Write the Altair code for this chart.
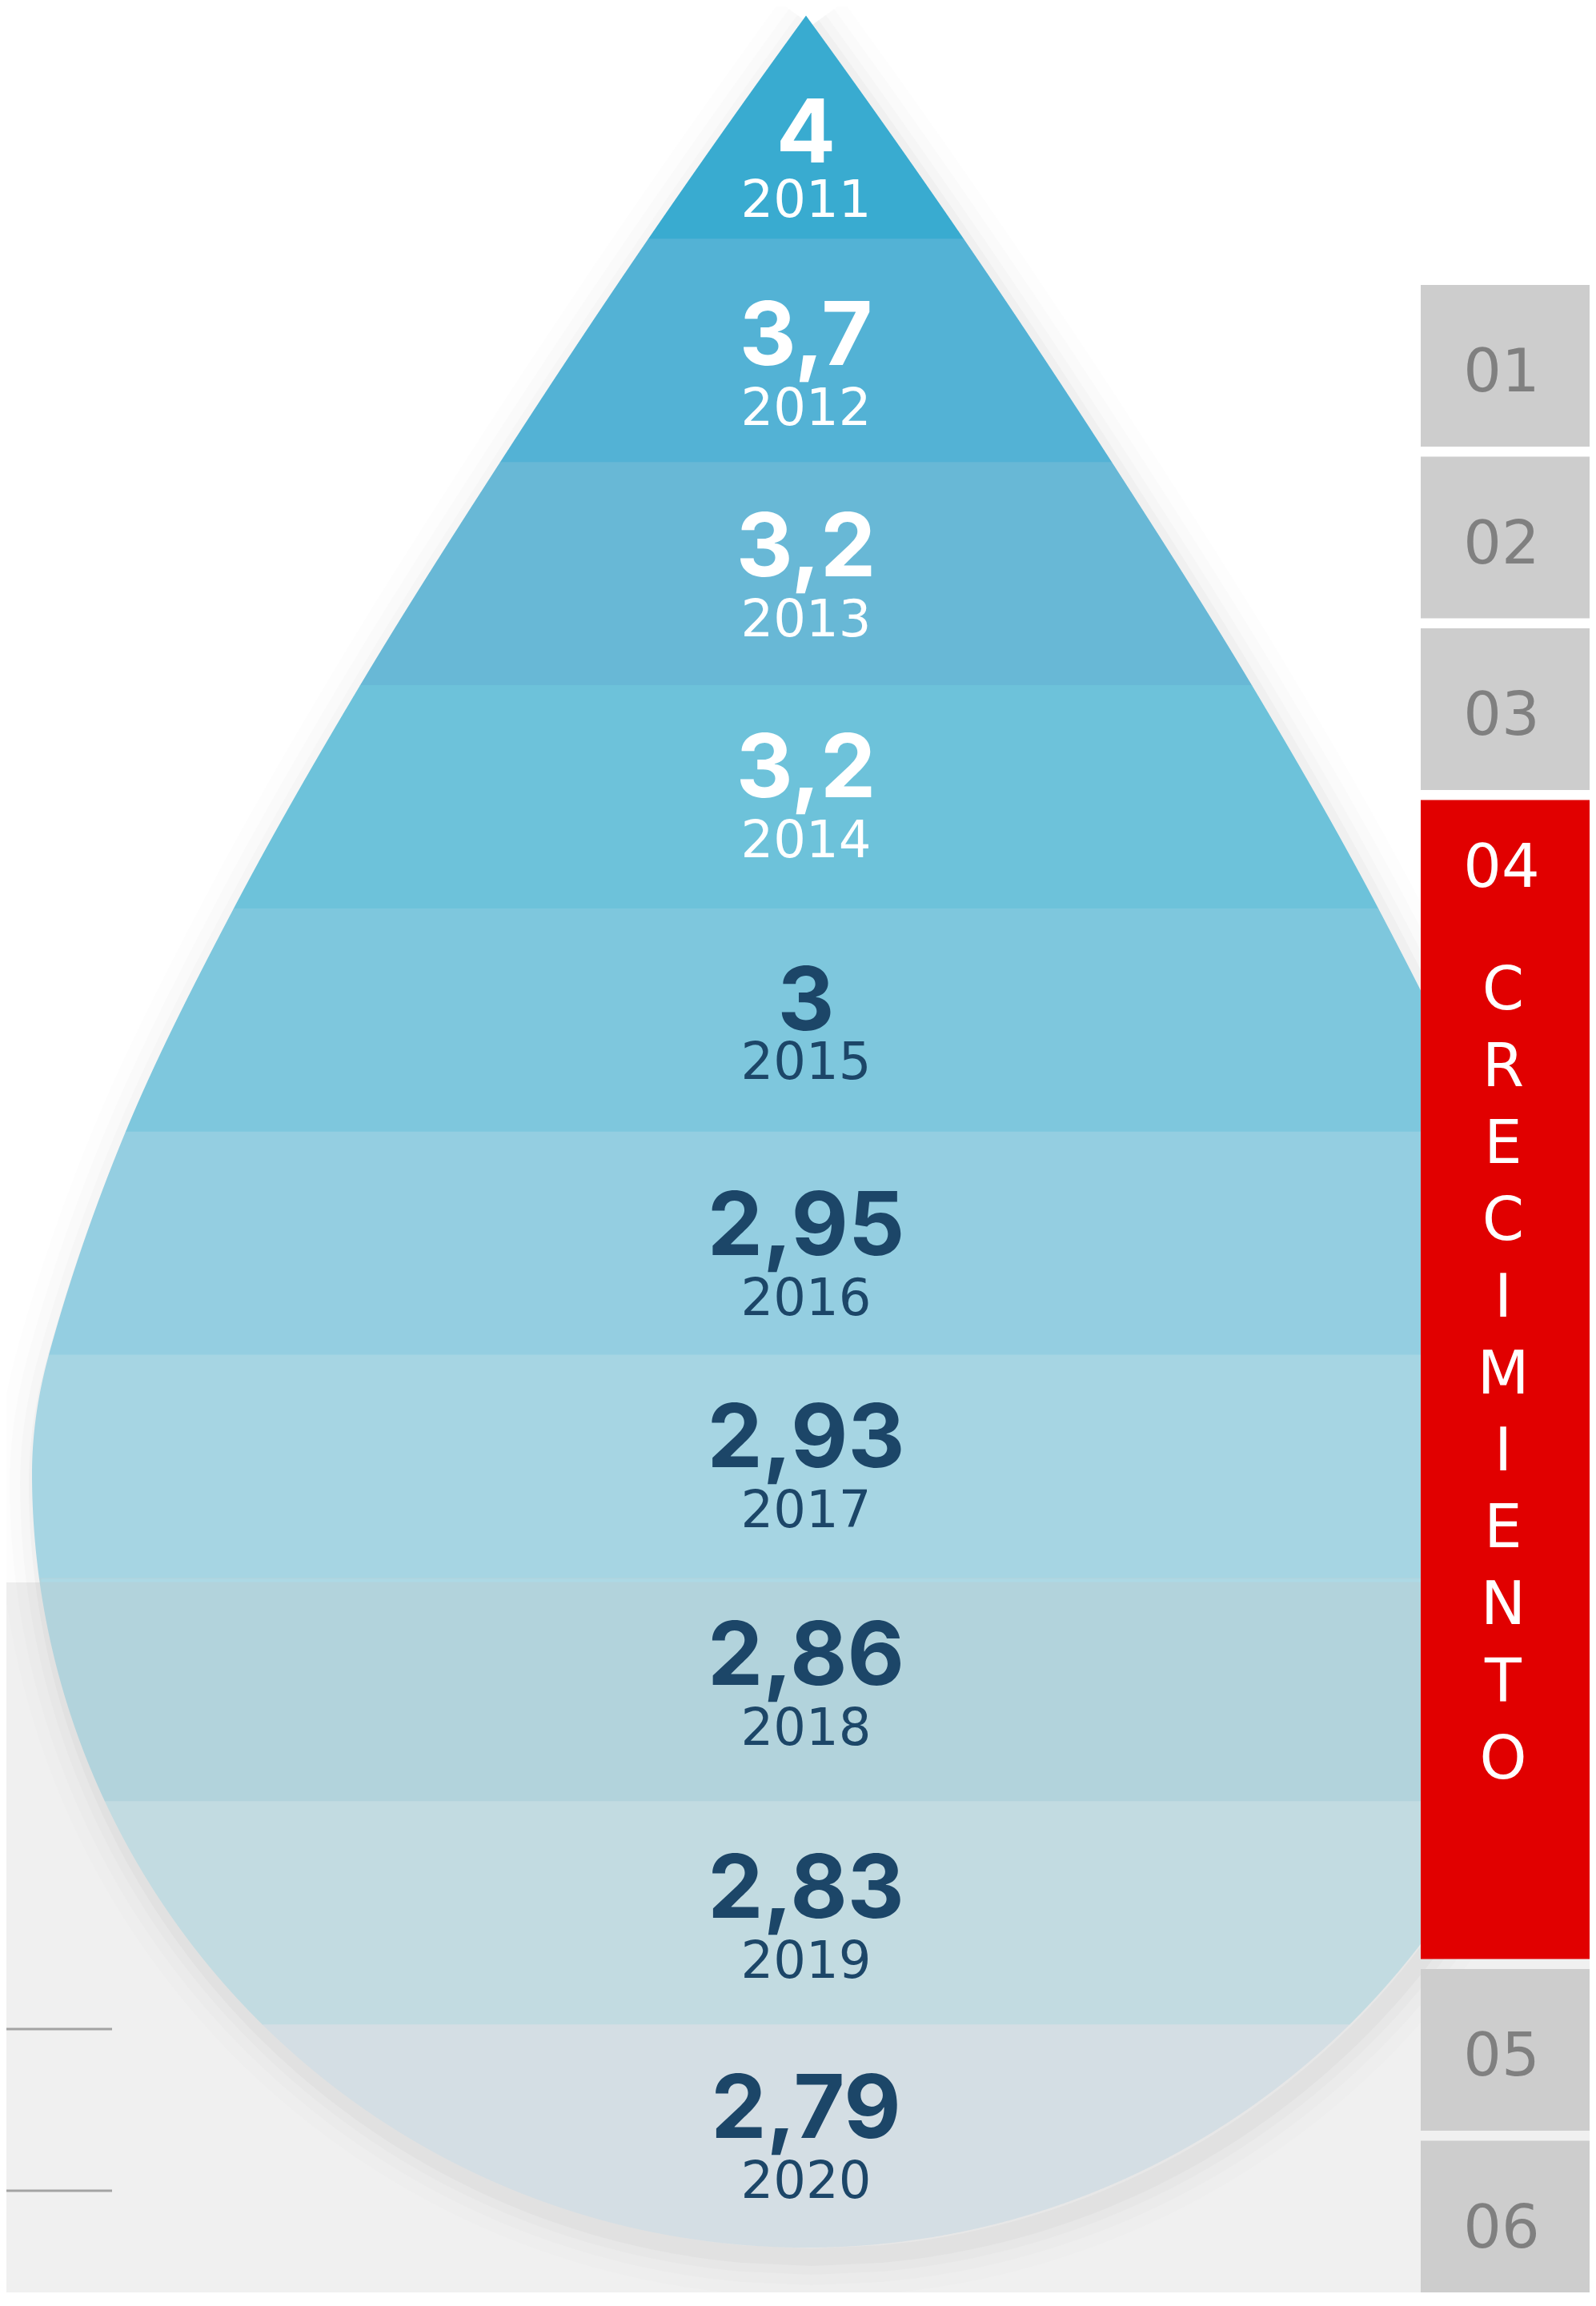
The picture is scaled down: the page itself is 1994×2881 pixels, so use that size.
import altair as alt
import numpy as np
import pandas as pd

# ---------------- data ----------------
years = [2011, 2012, 2013, 2014, 2015, 2016, 2017, 2018, 2019, 2020]
values = [4, 3.7, 3.2, 3.2, 3, 2.95, 2.93, 2.86, 2.83, 2.79]
band_colors = ["#39abd0", "#53b2d5", "#68b8d6", "#6dc2da", "#7ec7dd",
               "#94cee1", "#a6d5e3", "#b2d3dc", "#c2dbe1", "#d4dee4"]
label_colors = ["#ffffff", "#ffffff", "#ffffff", "#ffffff", "#1c4668",
                "#1c4668", "#1c4668", "#1c4668", "#1c4668", "#1c4668"]
tab_labels = ["01", "02", "03", "04", "05", "06"]
active_tab = "04"
section_title = "CRECIMIENTO"

# ---------------- layout (picture pixels) ----------------
W, H = 1978, 2856
OX, OY = 8, 8
CX = 1007.0
TIP_Y = 19.5
BAND_H = 278.85
CIRCLE_CY = 1841.0
CIRCLE_R = 967.0
SIDE_W = [0, 197, 382, 557, 715, 850, 946, 967]
TIP_SLOPE = 0.728
GRAY_TOP = 1977
SEAM_Y = 1974.5
# baseline offsets of the two labels inside each band (from the band top)
VAL_OFFS = [183, 160, 145, 142, 152, 157, 143, 136, 148, 144]
YEAR_OFFS = [251, 230, 215, 212, 213, 227, 213, 207, 218, 214]
MIN_GAP = 75
TAB_X1, TAB_X2 = 1775, 1986
TAB_TOP0, TAB_H, TAB_GAP, ACTIVE_H = 356, 202, 12.5, 1448
TAB_X_MID = 1876

BOTTOM_Y = CIRCLE_CY + CIRCLE_R
side_y = [TIP_Y + k * BAND_H for k in range(7)] + [CIRCLE_CY]


def half_width(yy):
    yy = np.asarray(yy, dtype=float)
    ky = np.array(side_y)
    kw = np.array(SIDE_W, dtype=float)
    n = len(ky)
    m = np.zeros(n)
    m[0] = TIP_SLOPE
    for i in range(1, n - 1):
        m[i] = (kw[i + 1] - kw[i - 1]) / (ky[i + 1] - ky[i - 1])
    i = np.clip(np.searchsorted(ky, yy) - 1, 0, n - 2)
    h = ky[i + 1] - ky[i]
    t = np.clip((yy - ky[i]) / h, 0, 1)
    h00 = 2 * t**3 - 3 * t**2 + 1
    h10 = t**3 - 2 * t**2 + t
    h01 = -2 * t**3 + 3 * t**2
    h11 = t**3 - t**2
    upper = h00 * kw[i] + h10 * h * m[i] + h01 * kw[i + 1] + h11 * h * m[i + 1]
    lower = np.sqrt(np.clip(CIRCLE_R**2 - (yy - CIRCLE_CY) ** 2, 0, None))
    return np.where(yy <= CIRCLE_CY, upper, lower)


_ty = np.linspace(TIP_Y, CIRCLE_CY, 8000)
_tw = np.maximum.accumulate(half_width(_ty))


def y_up(d):
    return np.interp(d, _tw, _ty)


def y_low(d):
    return CIRCLE_CY + np.sqrt(np.clip(CIRCLE_R**2 - d**2, 0, None))


# bands: one ranged area per year, clipped to the drop silhouette
band_rows = []
for i, yr in enumerate(years):
    T = TIP_Y + i * BAND_H
    B = BOTTOM_Y if i == len(years) - 1 else T + BAND_H + 0.8
    yy = np.linspace(T, B, 500)
    wy = half_width(yy)
    dmax = float(wy.max())
    d = np.unique(np.concatenate([wy, np.linspace(0, dmax, 400)]))
    top = np.maximum(T, y_up(d))
    bot = np.minimum(B, y_low(d))
    keep = bot >= top - 1e-9
    d, top, bot = d[keep], top[keep], np.maximum(bot[keep], top[keep])
    xs_ = np.concatenate([CX - d[::-1], CX + d[1:]])
    tops = np.concatenate([top[::-1], top[1:]])
    bots = np.concatenate([bot[::-1], bot[1:]])
    for a, b, c in zip(xs_, tops, bots):
        band_rows.append({"year": str(yr), "x": float(a), "top": float(b), "bot": float(c)})
bands = pd.DataFrame(band_rows)

# outline for the soft shadow
oy = np.linspace(TIP_Y, BOTTOM_Y, 700)
ow = half_width(oy)
outline = pd.DataFrame({
    "X": np.concatenate([CX - ow, (CX + ow)[::-1]]) + 7,
    "Y": np.concatenate([oy, oy[::-1]]) + 12,
})
outline["idx"] = np.arange(len(outline))

sw_ = float(half_width(SEAM_Y))
seam = pd.DataFrame({"x1": [CX - sw_ + 2], "x2": [CX + sw_ - 2], "y": [SEAM_Y]})


def fmt(v):
    return ("%g" % v).replace(".", ",")


label_rows = []
for i, (yr, v) in enumerate(zip(years, values)):
    T = TIP_Y + i * BAND_H
    lab = fmt(v)
    yv = T + VAL_OFFS[i]
    yy_ = T + YEAR_OFFS[i]
    if "," in lab and yy_ - yv < MIN_GAP:
        extra = MIN_GAP - (yy_ - yv)
        yv -= extra / 2.0
        yy_ += extra / 2.0
    label_rows.append({"year": str(yr), "val": lab, "x": CX,
                       "yv": yv, "yy": yy_, "tcol": label_colors[i]})
labels = pd.DataFrame(label_rows)

# side navigation tabs
tab_rows, tab_text_rows = [], []
top = TAB_TOP0
for lab in tab_labels:
    act = lab == active_tab
    h = ACTIVE_H if act else TAB_H
    tab_rows.append({"tab": lab, "x1": TAB_X1, "x2": TAB_X2, "y1": top, "y2": top + h,
                     "fill": "#e10000" if act else "#cdcdcd"})
    if act:
        tab_text_rows.append({"t": lab, "x": TAB_X_MID, "y": top + 108, "c": "#ffffff"})
        for k, ch in enumerate(section_title):
            tab_text_rows.append({"t": ch, "x": TAB_X_MID + 2, "y": top + 261 + 96.1 * k, "c": "#ffffff"})
    else:
        tab_text_rows.append({"t": lab, "x": TAB_X_MID, "y": top + 133, "c": "#808080"})
    top += h + TAB_GAP
tabs = pd.DataFrame(tab_rows)
tab_texts = pd.DataFrame(tab_text_rows)

rules = pd.DataFrame({"x1": [OX, OX], "x2": [140, 140], "y": [2535, 2737]})
bg = pd.DataFrame({"x1": [OX], "x2": [OX + W], "y1": [GRAY_TOP], "y2": [OY + H]})

xs = alt.Scale(domain=[OX, OX + W], nice=False, zero=False)
ysc = alt.Scale(domain=[OY, OY + H], nice=False, zero=False, reverse=True)


def X(f):
    return alt.X(f, scale=xs, axis=None)


def Y(f):
    return alt.Y(f, scale=ysc, axis=None)


layers = []
layers.append(alt.Chart(bg).mark_rect(color="#f0f0f0").encode(
    x=X("x1:Q"), x2="x2:Q", y=Y("y1:Q"), y2="y2:Q"))
layers.append(alt.Chart(rules).mark_rule(color="#a3a3a3", strokeWidth=3).encode(
    x=X("x1:Q"), x2="x2:Q", y=Y("y:Q")))
for sw, op in [(100, 0.009), (70, 0.012), (44, 0.016), (22, 0.022)]:
    layers.append(alt.Chart(outline).mark_line(
        color="#000000", strokeWidth=sw, opacity=op, strokeJoin="round").encode(
        x=X("X:Q"), y=Y("Y:Q"), order="idx:Q"))
layers.append(alt.Chart(bands).mark_area(opacity=1).encode(
    x=X("x:Q"), y=Y("top:Q"), y2="bot:Q",
    color=alt.Color("year:N", scale=alt.Scale(domain=[str(y) for y in years], range=band_colors),
                    legend=None)))
layers.append(alt.Chart(seam).mark_rule(color="#add9e5", strokeWidth=4).encode(
    x=X("x1:Q"), x2="x2:Q", y=Y("y:Q")))
layers.append(alt.Chart(labels).mark_text(
    font="Inter", fontWeight="bold", fontSize=110, align="center", baseline="alphabetic").encode(
    x=X("x:Q"), y=Y("yv:Q"), text="val:N", color=alt.Color("tcol:N", scale=None)))
layers.append(alt.Chart(labels).mark_text(
    font="DejaVu Sans", fontWeight="normal", fontSize=64, align="center", baseline="alphabetic").encode(
    x=X("x:Q"), y=Y("yy:Q"), text="year:N", color=alt.Color("tcol:N", scale=None)))
layers.append(alt.Chart(tabs).mark_rect().encode(
    x=X("x1:Q"), x2="x2:Q", y=Y("y1:Q"), y2="y2:Q", fill=alt.Fill("fill:N", scale=None)))
layers.append(alt.Chart(tab_texts).mark_text(
    font="DejaVu Sans", fontWeight="normal", fontSize=75, align="center", baseline="alphabetic").encode(
    x=X("x:Q"), y=Y("y:Q"), text="t:N", color=alt.Color("c:N", scale=None)))

chart = alt.layer(*layers).properties(
    width=W, height=H, padding=0, autosize=alt.AutoSizeParams(type="none"),
    background="#ffffff").configure_view(stroke=None)

chart.save("out.html", embed_options={"renderer": "svg", "actions": False})
